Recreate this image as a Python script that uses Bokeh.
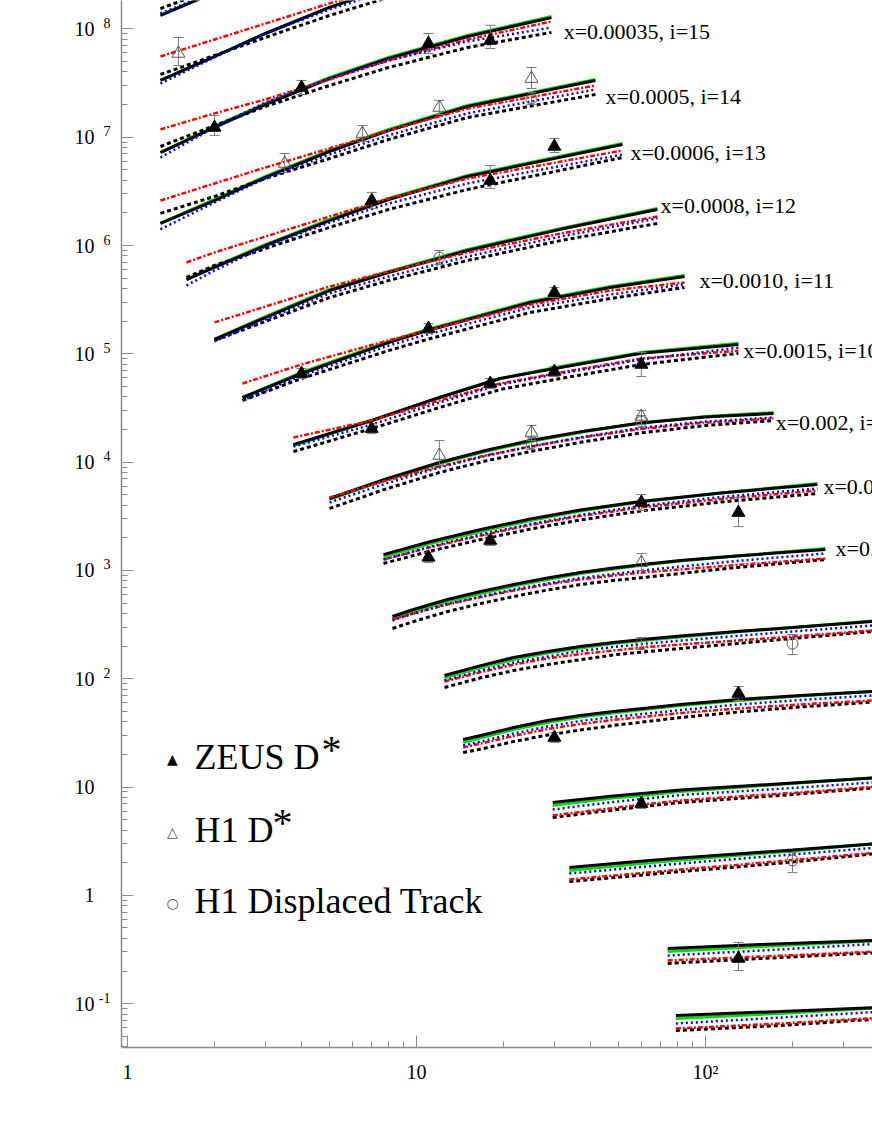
from bokeh.plotting import figure
from bokeh.models import Range1d, FixedTicker, Label, CustomJSTickFormatter, LogAxis
from bokeh.embed import file_html
from bokeh.resources import INLINE
from bokeh.core.properties import value

# ---------------- theory curves (Q2 [GeV^2], F2c * 4^i) ----------------
# bf = black full, gr = green, bl = blue dotted, rd = red dash-dot, bd = black dashed
q2_17 = [1.3, 2.0, 3.0, 5.0]
bf_17 = [1.33e8, 2.17e8, 3.32e8, 5.53e8]
gr_17 = [1.33e8, 2.17e8, 3.32e8, 5.53e8]
bl_17 = [1.39e8, 2.21e8, 3.39e8, 5.77e8]
rd_17 = [2.17e8, 3.18e8, 4.47e8, 6.84e8]
bd_17 = [1.54e8, 2.36e8, 3.46e8, 5.30e8]

q2_16 = [1.3, 2.0, 3.0, 5.0, 8.0, 15.0]
bf_16 = [3.34e7, 5.56e7, 9.07e7, 1.58e8, 2.41e8, 3.77e8]
gr_16 = [3.34e7, 5.56e7, 9.07e7, 1.58e8, 2.41e8, 3.77e8]
bl_16 = [3.13e7, 5.45e7, 9.07e7, 1.51e8, 2.26e8, 3.39e8]
rd_16 = [5.56e7, 7.98e7, 1.12e8, 1.72e8, 2.46e8, 3.69e8]
bd_16 = [3.79e7, 5.68e7, 8.33e7, 1.33e8, 1.95e8, 2.92e8]

q2_15 = [1.3, 2.0, 3.0, 5.0, 8.0, 15.0, 29.3]
bf_15 = [7.22e6, 1.23e7, 2.00e7, 3.48e7, 5.33e7, 8.51e7, 1.27e8]
gr_15 = [7.22e6, 1.26e7, 2.05e7, 3.56e7, 5.45e7, 8.69e7, 1.30e8]
bl_15 = [6.49e6, 1.23e7, 2.09e7, 3.48e7, 5.11e7, 7.65e7, 1.03e8]
rd_15 = [1.18e7, 1.66e7, 2.23e7, 3.41e7, 5.11e7, 7.98e7, 1.17e8]
bd_15 = [8.21e6, 1.28e7, 1.92e7, 3.00e7, 4.40e7, 6.73e7, 9.27e7]

q2_14 = [1.3, 2.0, 3.0, 5.0, 8.0, 15.0, 41.6]
bf_14 = [1.60e6, 2.60e6, 4.25e6, 7.38e6, 1.15e7, 1.92e7, 3.34e7]
gr_14 = [1.60e6, 2.66e6, 4.34e6, 7.54e6, 1.18e7, 1.96e7, 3.41e7]
bl_14 = [1.41e6, 2.50e6, 4.16e6, 6.92e6, 1.04e7, 1.66e7, 2.76e7]
rd_14 = [2.60e6, 3.74e6, 5.25e6, 7.87e6, 1.15e7, 1.84e7, 3.00e7]
bd_14 = [1.98e6, 2.84e6, 4.16e6, 6.36e6, 9.52e6, 1.52e7, 2.48e7]

q2_13 = [1.6, 2.0, 3.0, 5.0, 8.0, 15.0, 51.6]
bf_13 = [4.85e5, 6.27e5, 1.00e6, 1.70e6, 2.66e6, 4.34e6, 8.57e6]
gr_13 = [4.85e5, 6.40e5, 1.02e6, 1.74e6, 2.72e6, 4.43e6, 8.75e6]
bl_13 = [4.27e5, 5.88e5, 9.79e5, 1.63e6, 2.44e6, 3.74e6, 6.92e6]
rd_13 = [6.97e5, 8.62e5, 1.21e6, 1.85e6, 2.72e6, 4.16e6, 7.54e6]
bd_13 = [5.07e5, 6.54e5, 9.38e5, 1.47e6, 2.15e6, 3.29e6, 6.49e6]

q2_12 = [2.0, 3.0, 5.0, 8.0, 15.0, 31.5, 68.2]
bf_12 = [1.36e5, 2.16e5, 3.84e5, 5.63e5, 8.99e5, 1.41e6, 2.15e6]
gr_12 = [1.36e5, 2.21e5, 3.93e5, 5.75e5, 9.19e5, 1.44e6, 2.20e6]
bl_12 = [1.30e5, 2.07e5, 3.61e5, 5.17e5, 7.92e5, 1.21e6, 1.78e6]
rd_12 = [1.95e5, 2.73e5, 4.18e5, 5.75e5, 8.62e5, 1.29e6, 1.85e6]
bd_12 = [1.33e5, 1.99e5, 3.31e5, 4.75e5, 7.27e5, 1.11e6, 1.60e6]

q2_11 = [2.5, 4.0, 8.0, 10.9, 24.8, 46.9, 84.6]
bf_11 = [3.95e4, 6.58e4, 1.27e5, 1.64e5, 2.98e5, 4.10e5, 5.17e5]
gr_11 = [3.95e4, 6.72e4, 1.30e5, 1.68e5, 3.04e5, 4.18e5, 5.29e5]
bl_11 = [3.71e4, 6.30e4, 1.19e5, 1.51e5, 2.68e5, 3.53e5, 4.37e5]
rd_11 = [5.32e4, 7.97e4, 1.33e5, 1.64e5, 2.85e5, 3.84e5, 4.55e5]
bd_11 = [3.71e4, 5.92e4, 1.07e5, 1.36e5, 2.41e5, 3.24e5, 4.10e5]

q2_10 = [3.75, 7.0, 12.0, 19.5, 31.5, 60.0, 130.0]
bf_10 = [1.45e4, 2.42e4, 3.95e4, 5.92e4, 7.47e4, 1.01e5, 1.22e5]
gr_10 = [1.42e4, 2.42e4, 3.95e4, 5.92e4, 7.64e4, 1.03e5, 1.25e5]
bl_10 = [1.39e4, 2.22e4, 3.55e4, 5.21e4, 6.58e4, 8.86e4, 1.14e5]
rd_10 = [1.69e4, 2.42e4, 3.71e4, 5.32e4, 6.72e4, 9.05e4, 1.07e5]
bd_10 = [1.25e4, 2.04e4, 3.19e4, 4.68e4, 5.92e4, 7.97e4, 1.01e5]

q2_9 = [5.0, 7.75, 12.0, 17.3, 24.8, 38.4, 59.6, 100.0, 172.0]
bf_9 = [4.61e3, 6.91e3, 9.92e3, 1.280e4, 1.583e4, 1.938e4, 2.297e4, 2.609e4, 2.811e4]
gr_9 = [4.52e3, 6.77e3, 9.71e3, 1.253e4, 1.550e4, 1.917e4, 2.297e4, 2.637e4, 2.871e4]
bl_9 = [4.24e3, 6.28e3, 8.92e3, 1.139e4, 1.394e4, 1.724e4, 2.065e4, 2.371e4, 2.581e4]
rd_9 = [4.71e3, 6.69e3, 9.11e3, 1.151e4, 1.394e4, 1.706e4, 2.022e4, 2.321e4, 2.527e4]
bd_9 = [3.73e3, 5.59e3, 8.02e3, 1.024e4, 1.253e4, 1.550e4, 1.857e4, 2.178e4, 2.422e4]

q2_8 = [7.69, 11.2, 16.7, 24.8, 36.9, 59.6, 113.0, 244.0]
bf_8 = [1.40e3, 1.85e3, 2.39e3, 2.98e3, 3.61e3, 4.33e3, 5.19e3, 6.21e3]
gr_8 = [1.34e3, 1.77e3, 2.29e3, 2.89e3, 3.54e3, 4.28e3, 5.19e3, 6.35e3]
bl_8 = [1.26e3, 1.66e3, 2.15e3, 2.68e3, 3.25e3, 3.93e3, 4.76e3, 5.71e3]
rd_8 = [1.26e3, 1.64e3, 2.10e3, 2.63e3, 3.18e3, 3.81e3, 4.56e3, 5.47e3]
bd_8 = [1.16e3, 1.51e3, 1.93e3, 2.41e3, 2.92e3, 3.54e3, 4.28e3, 5.13e3]

q2_7 = [8.26, 9.76, 12.8, 16.7, 21.7, 28.4, 36.9, 48.0, 63.0, 81.9, 128.0, 260.0]
bf_7 = [375, 436, 539, 639, 741, 851, 956, 1053, 1146, 1235, 1359, 1560]
gr_7 = [360, 417, 516, 612, 718, 824, 936, 1030, 1134, 1222, 1359, 1594]
bl_7 = [345, 400, 490, 574, 666, 757, 851, 927, 1009, 1087, 1222, 1433]
rd_7 = [352, 400, 484, 568, 652, 741, 824, 897, 967, 1020, 1122, 1288]
bd_7 = [291, 337, 417, 495, 574, 659, 741, 807, 869, 936, 1064, 1261]

q2_6 = [12.5, 16.7, 21.7, 28.4, 36.9, 48.0, 63.0, 81.9, 128.0, 200.0, 378.0, 473.0]
bf_6 = [107, 132, 157, 178, 198, 216, 233, 248, 273, 297, 337, 352]
gr_6 = [102, 127, 150, 173, 192, 211, 228, 243, 270, 297, 341, 356]
bl_6 = [96.3, 119, 141, 160, 180, 196, 211, 225, 248, 273, 310, 323]
rd_6 = [94.2, 115, 135, 154, 169, 182, 196, 207, 225, 245, 279, 291]
bd_6 = [83.0, 102, 119, 135, 150, 166, 178, 190, 211, 235, 273, 285]

q2_5 = [14.5, 16.7, 21.7, 28.4, 36.9, 48.0, 63.0, 81.9, 130.0, 213.0, 378.0, 473.0]
bf_5 = [27.5, 29.9, 35.4, 41.1, 45.8, 49.8, 53.6, 57.8, 64.3, 70.0, 76.2, 78.6]
gr_5 = [25.8, 28.4, 34.0, 39.4, 44.3, 48.2, 52.5, 56.6, 62.9, 69.2, 76.2, 78.6]
bl_5 = [24.2, 26.3, 31.2, 36.2, 40.7, 44.3, 47.7, 51.4, 57.8, 63.6, 70.0, 72.3]
rd_5 = [23.2, 25.2, 29.6, 34.3, 38.2, 41.6, 44.8, 48.2, 53.1, 57.8, 62.9, 64.9]
bd_5 = [20.8, 22.4, 26.3, 30.2, 33.6, 37.0, 40.3, 43.8, 49.3, 54.8, 60.9, 63.6]

q2_4 = [29.6, 36.9, 48.0, 63.0, 81.9, 128.0, 200.0, 378.0, 473.0]
bf_4 = [7.19, 7.67, 8.26, 8.81, 9.38, 10.11, 10.89, 12.11, 12.50]
gr_4 = [6.75, 7.27, 7.91, 8.44, 9.09, 9.90, 10.78, 12.11, 12.50]
bl_4 = [6.20, 6.68, 7.27, 7.83, 8.44, 9.09, 9.79, 11.01, 11.36]
rd_4 = [5.46, 5.88, 6.40, 6.97, 7.51, 8.17, 8.81, 10.00, 10.32]
bd_4 = [5.23, 5.63, 6.13, 6.68, 7.19, 7.83, 8.53, 9.79, 10.11]

q2_3 = [33.8, 52.9, 81.9, 128.0, 200.0, 378.0, 473.0]
bf_3 = [1.806, 2.009, 2.211, 2.407, 2.620, 2.977, 3.107]
gr_3 = [1.695, 1.905, 2.119, 2.331, 2.565, 2.977, 3.107]
bl_3 = [1.590, 1.768, 1.967, 2.165, 2.381, 2.734, 2.853]
rd_3 = [1.400, 1.556, 1.731, 1.905, 2.119, 2.459, 2.565]
bd_3 = [1.341, 1.492, 1.659, 1.826, 2.030, 2.407, 2.511]

q2_2 = [74.0, 155.0, 473.0]
bf_2 = [0.323, 0.351, 0.391]
gr_2 = [0.303, 0.337, 0.391]
bl_2 = [0.278, 0.309, 0.367]
rd_2 = [0.250, 0.272, 0.309]
bd_2 = [0.235, 0.261, 0.303]

q2_1 = [79.0, 182.0, 473.0]
bf_1 = [0.0777, 0.0846, 0.0940]
gr_1 = [0.0729, 0.0811, 0.0940]
bl_1 = [0.0655, 0.0744, 0.0864]
rd_1 = [0.0589, 0.0655, 0.0760]
bd_1 = [0.0564, 0.0628, 0.0744]

# ---------------- curve labels ----------------
label_text = ["x=0.00035, i=15", "x=0.0005, i=14", "x=0.0006, i=13", "x=0.0008, i=12",
              "x=0.0010, i=11", "x=0.0015, i=10", "x=0.002, i=9", "x=0.003, i=8", "x=0.005, i=7"]
label_q2 = [32.3, 45.1, 55.0, 69.9, 95.3, 135.0, 175.0, 256.0, 282.0]
label_y = [9.46e7, 2.38e7, 7.22e6, 2.34e6, 4.75e5, 1.07e5, 2.32e4, 5.95e3, 1.59e3]

# ---------------- data points ----------------
zeus_q2 = [2.0, 4.0, 11, 18, 7.0, 18, 30, 4.0, 11, 30, 7.0, 18, 30, 60, 11, 18, 60, 130, 30, 130, 60, 130]
zeus_f2 = [1.23e7, 2.88e7, 7.33e7, 7.82e7, 2.60e6, 3.98e6, 8.21e6, 6.58e4, 1.71e5, 3.68e5,
           2.04e4, 5.32e4, 6.87e4, 7.97e4, 1.32e3, 1.89e3, 4.24e3, 3.42e3, 28.7, 73.0, 7.04, 0.261]
zeus_lo = [1.04e7, 2.48e7, 5.93e7, 6.59e7, 2.20e6, 3.36e6, 7.22e6, 5.92e4, 1.54e5, 3.31e5,
           1.83e4, 4.78e4, 6.17e4, 6.17e4, 1.18e3, 1.70e3, 3.57e3, 2.54e3, 25.8, 62.9, 6.33, 0.202]
zeus_hi = [1.59e7, 3.34e7, 9.07e7, 1.08e8, 3.09e6, 5.48e6, 9.73e6, 7.32e4, 1.90e5, 4.10e5,
           2.27e4, 5.92e4, 7.64e4, 1.03e5, 1.47e3, 2.10e3, 5.02e3, 4.71e3, 31.9, 84.7, 7.83, 0.367]

h1_q2 = [1.5, 3.5, 6.5, 12, 25, 12, 25, 60, 60]
h1_f2 = [5.93e7, 5.72e6, 1.08e7, 1.88e7, 3.48e7, 1.15e4, 1.88e4, 2.64e4, 1180]
h1_lo = [4.59e7, 4.72e6, 9.13e6, 1.62e7, 2.82e7, 9.31e3, 1.58e4, 2.22e4, 998]
h1_hi = [8.33e7, 7.07e6, 1.28e7, 2.18e7, 4.40e7, 1.58e4, 2.18e4, 3.00e4, 1430]

h1dt_q2 = [25, 12, 25, 60, 60, 200, 200]
h1dt_f2 = [2.28e7, 7.75e5, 1.49e4, 2.37e4, 211, 211, 2.10]
h1dt_lo = [2.00e7, 6.68e5, 1.31e4, 2.09e4, 186, 167, 1.62]
h1dt_hi = [2.59e7, 8.99e5, 1.69e4, 2.69e4, 240, 256, 2.48]

# ---------------- figure ----------------
XLO, XHI = 0.9533, 378.4
YLO, YHI = 0.03934, 1.829e8
SERIF = "Liberation Serif"
AXC = "#8c8c8c"

p = figure(width=872, height=1128, x_axis_type="log", y_axis_type="log",
           x_range=Range1d(XLO, XHI), y_range=Range1d(YLO, YHI),
           output_backend="svg", toolbar_location=None, title=None,
           min_border_left=121, min_border_right=0, min_border_top=0, min_border_bottom=81)
p.outline_line_color = None
p.xgrid.visible = False
p.ygrid.visible = False
p.background_fill_color = "white"
p.border_fill_color = "white"

xt = [10.0 ** k for k in range(0, 4)]
yt = [10.0 ** k for k in range(-2, 10)]
p.xaxis.ticker = FixedTicker(ticks=xt, minor_ticks=[m * 10.0 ** k for k in range(-1, 4) for m in range(2, 10)])
p.yaxis.ticker = FixedTicker(ticks=yt, minor_ticks=[m * 10.0 ** k for k in range(-2, 10) for m in range(2, 10)])

X_JS = r"""
const e = Math.round(Math.log10(tick));
if (e == 0) return "1";
if (e == 1) return "10";
const sup = {"-": "\u207B", "0": "\u2070", "1": "\u00B9", "2": "\u00B2", "3": "\u00B3",
             "4": "\u2074", "5": "\u2075", "6": "\u2076", "7": "\u2077", "8": "\u2078", "9": "\u2079"};
return "10" + String(e).split("").map(c => sup[c]).join("");
"""
p.xaxis.formatter = CustomJSTickFormatter(code=X_JS)
p.yaxis.formatter = CustomJSTickFormatter(code="return ''")

for ax in (p.xaxis[0], p.yaxis[0]):
    ax.axis_line_color = AXC
    ax.axis_line_width = 1.5
    ax.major_tick_line_color = AXC
    ax.minor_tick_line_color = AXC
    ax.major_tick_in = 12
    ax.major_tick_out = 0
    ax.minor_tick_in = 6
    ax.minor_tick_out = 0
    ax.major_label_text_font = SERIF
    ax.major_label_text_font_size = "20px"
    ax.major_label_text_color = "black"
p.yaxis.major_label_standoff = 0
p.xaxis.major_label_standoff = 13

# y tick labels: exponent column (raised) next to the axis, "10" column further out
exp_axis = LogAxis(ticker=FixedTicker(ticks=[t * 1.136 for t in yt], minor_ticks=[]),
                   formatter=CustomJSTickFormatter(code="""
const e = Math.round(Math.log10(tick));
if (e == 0 || e == 1) return "";
return String(e);"""),
                   axis_line_color=None, major_tick_line_color=None, minor_tick_line_color=None,
                   major_tick_in=0, major_tick_out=0, minor_tick_in=0, minor_tick_out=0,
                   major_label_standoff=11, major_label_text_font=SERIF,
                   major_label_text_font_size="14px", major_label_text_color="black")
p.add_layout(exp_axis, "left")
base_axis = LogAxis(ticker=FixedTicker(ticks=yt, minor_ticks=[]),
                    formatter=CustomJSTickFormatter(code="""
const e = Math.round(Math.log10(tick));
return e == 0 ? "1" : "10";"""),
                    axis_line_color=None, major_tick_line_color=None, minor_tick_line_color=None,
                    major_tick_in=0, major_tick_out=0, minor_tick_in=0, minor_tick_out=0,
                    major_label_standoff=1, major_label_text_font=SERIF,
                    major_label_text_font_size="20px", major_label_text_color="black")
p.add_layout(base_axis, "left")

curves = [
    (q2_17, bf_17, gr_17, bl_17, rd_17, bd_17),
    (q2_16, bf_16, gr_16, bl_16, rd_16, bd_16),
    (q2_15, bf_15, gr_15, bl_15, rd_15, bd_15),
    (q2_14, bf_14, gr_14, bl_14, rd_14, bd_14),
    (q2_13, bf_13, gr_13, bl_13, rd_13, bd_13),
    (q2_12, bf_12, gr_12, bl_12, rd_12, bd_12),
    (q2_11, bf_11, gr_11, bl_11, rd_11, bd_11),
    (q2_10, bf_10, gr_10, bl_10, rd_10, bd_10),
    (q2_9, bf_9, gr_9, bl_9, rd_9, bd_9),
    (q2_8, bf_8, gr_8, bl_8, rd_8, bd_8),
    (q2_7, bf_7, gr_7, bl_7, rd_7, bd_7),
    (q2_6, bf_6, gr_6, bl_6, rd_6, bd_6),
    (q2_5, bf_5, gr_5, bl_5, rd_5, bd_5),
    (q2_4, bf_4, gr_4, bl_4, rd_4, bd_4),
    (q2_3, bf_3, gr_3, bl_3, rd_3, bd_3),
    (q2_2, bf_2, gr_2, bl_2, rd_2, bd_2),
    (q2_1, bf_1, gr_1, bl_1, rd_1, bd_1),
]

for q, bf, gr, bl, rd, bd in curves:
    p.line(q, gr, line_color="#00e000", line_width=3)
    p.line(q, bf, line_color="black", line_width=3)
    p.line(q, bd, line_color="black", line_width=3, line_dash="4 3")
    p.line(q, rd, line_color="#ff0000", line_width=2.5, line_dash="5 2 2 2")
    p.line(q, bl, line_color="#0000ff", line_width=2.5, line_dash="2 3")

p.text(x=label_q2, y=label_y, text=label_text, text_font=value(SERIF), text_font_size="22px",
       text_align="left", text_baseline="middle", text_color="black")

ERR = "#7a7a7a"
for q, lo, hi in ((zeus_q2, zeus_lo, zeus_hi), (h1_q2, h1_lo, h1_hi), (h1dt_q2, h1dt_lo, h1dt_hi)):
    p.segment(x0=q, y0=lo, x1=q, y1=hi, line_color=ERR, line_width=1)
    p.scatter(x=q + q, y=lo + hi, marker="dash", size=10, line_color=ERR, line_width=1)

p.scatter(x=zeus_q2, y=zeus_f2, marker="triangle", size=13, fill_color="black", line_color="black")
p.scatter(x=h1_q2, y=h1_f2, marker="triangle", size=13, fill_color=None, line_color="#555555", line_width=1)
p.scatter(x=h1dt_q2, y=h1dt_f2, marker="circle", size=11, fill_color=None, line_color="#555555", line_width=1)


def lab(text, xo, yo, size, align="left", font=SERIF, color="black"):
    # offsets in pixels from the bottom-left corner of the plot frame
    p.add_layout(Label(x=XLO, y=YLO, x_units="data", y_units="data", x_offset=xo, y_offset=yo,
                       text=text, text_font=font, text_font_size=size, text_align=align,
                       text_baseline="middle", text_color=color))


# legend
lab("\u25B2", 51, 289, "14px", align="center", font="DejaVu Sans")
lab("\u25B3", 51, 216, "14px", align="center", font="DejaVu Sans", color="#555555")
lab("\u25CB", 51, 145, "14px", align="center", font="DejaVu Sans", color="#555555")
lab("ZEUS D", 73, 291, "36px")
lab("*", 200, 298, "40px")
lab("H1 D", 73, 218, "36px")
lab("*", 151, 225, "40px")
lab("H1 Displaced Track", 73, 147, "36px")

open("out.html", "w").write(file_html(p, INLINE))
